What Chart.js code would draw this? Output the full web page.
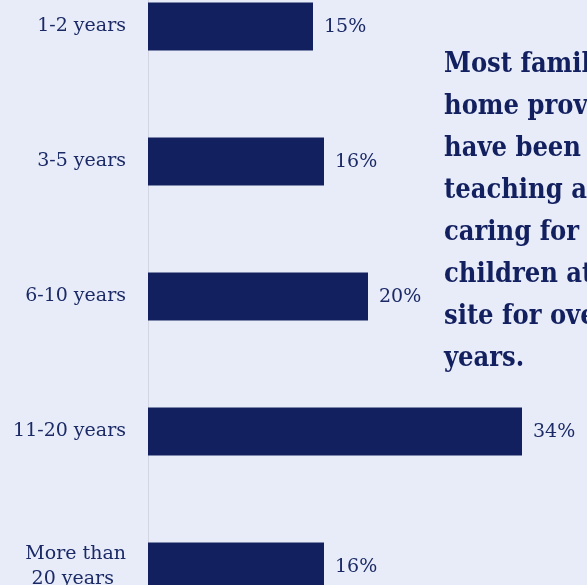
<!DOCTYPE html>
<html>
<head>
<meta charset="utf-8">
<script src="https://cdn.jsdelivr.net/npm/chart.js@4/dist/chart.umd.min.js"></script>
<style>
  html, body { margin: 0; padding: 0; background: #e8ecf9; overflow: hidden; width: 587px; height: 585px; }
  #wrap { position: absolute; left: 0; top: -41px; width: 588px; height: 675px; }
</style>
</head>
<body>
<div id="wrap"><canvas id="c" width="588" height="675"></canvas></div>
<script>
const categories = ['1-2 years', '3-5 years', '6-10 years', '11-20 years', ['More than', '20 years']];
const shares = [15, 16, 20, 34, 16];
const noteLines = ['Most family child care', 'home providers', 'have been', 'teaching and', 'caring for', 'children at their', 'site for over 10', 'years.'];

const navy = '#13205f';
const textColor = '#1b2a66';

const valueLabels = {
  id: 'valueLabels',
  afterDatasetsDraw(chart) {
    const ctx = chart.ctx;
    const meta = chart.getDatasetMeta(0);
    ctx.save();
    ctx.font = '19px "DejaVu Serif"';
    ctx.fillStyle = textColor;
    ctx.textAlign = 'left';
    ctx.textBaseline = 'middle';
    meta.data.forEach((bar, i) => {
      ctx.fillText(shares[i] + '%', bar.x + 11, bar.y + 1);
    });
    ctx.restore();
  }
};

const note = {
  id: 'note',
  afterDraw(chart) {
    const ctx = chart.ctx;
    const a = chart.chartArea;
    ctx.save();
    ctx.font = 'bold 27px "DejaVu Serif Condensed", "DejaVu Serif"';
    ctx.fillStyle = navy;
    ctx.textAlign = 'left';
    ctx.textBaseline = 'alphabetic';
    noteLines.forEach((line, i) => {
      ctx.fillText(line, a.left + 296, a.top + 113 + i * 42);
    });
    ctx.restore();
  }
};

new Chart(document.getElementById('c'), {
  type: 'bar',
  data: {
    labels: categories,
    datasets: [{
      data: shares,
      backgroundColor: navy,
      borderWidth: 0,
      barPercentage: 0.356,
      categoryPercentage: 1
    }]
  },
  options: {
    indexAxis: 'y',
    responsive: false,
    devicePixelRatio: 1,
    animation: false,
    layout: { padding: 0 },
    plugins: { legend: { display: false }, tooltip: { enabled: false } },
    scales: {
      x: { display: false, min: 0, max: 40 },
      y: {
        afterFit(scale) { scale.width = 148; scale.paddingTop = 0; scale.paddingBottom = 0; },
        grid: { display: false, drawTicks: false },
        border: { display: true, color: '#d3d6e0', width: 1 },
        ticks: {
          padding: 22,
          color: textColor,
          font: { family: '"DejaVu Serif"', size: 19, lineHeight: 1.3 },
          callback(value, index) {
            const lab = categories[index];
            if (Array.isArray(lab)) return [lab[0], lab[1] + '\u00A0\u00A0'];
            return lab;
          }
        }
      }
    }
  },
  plugins: [valueLabels, note]
});
</script>
</body>
</html>
